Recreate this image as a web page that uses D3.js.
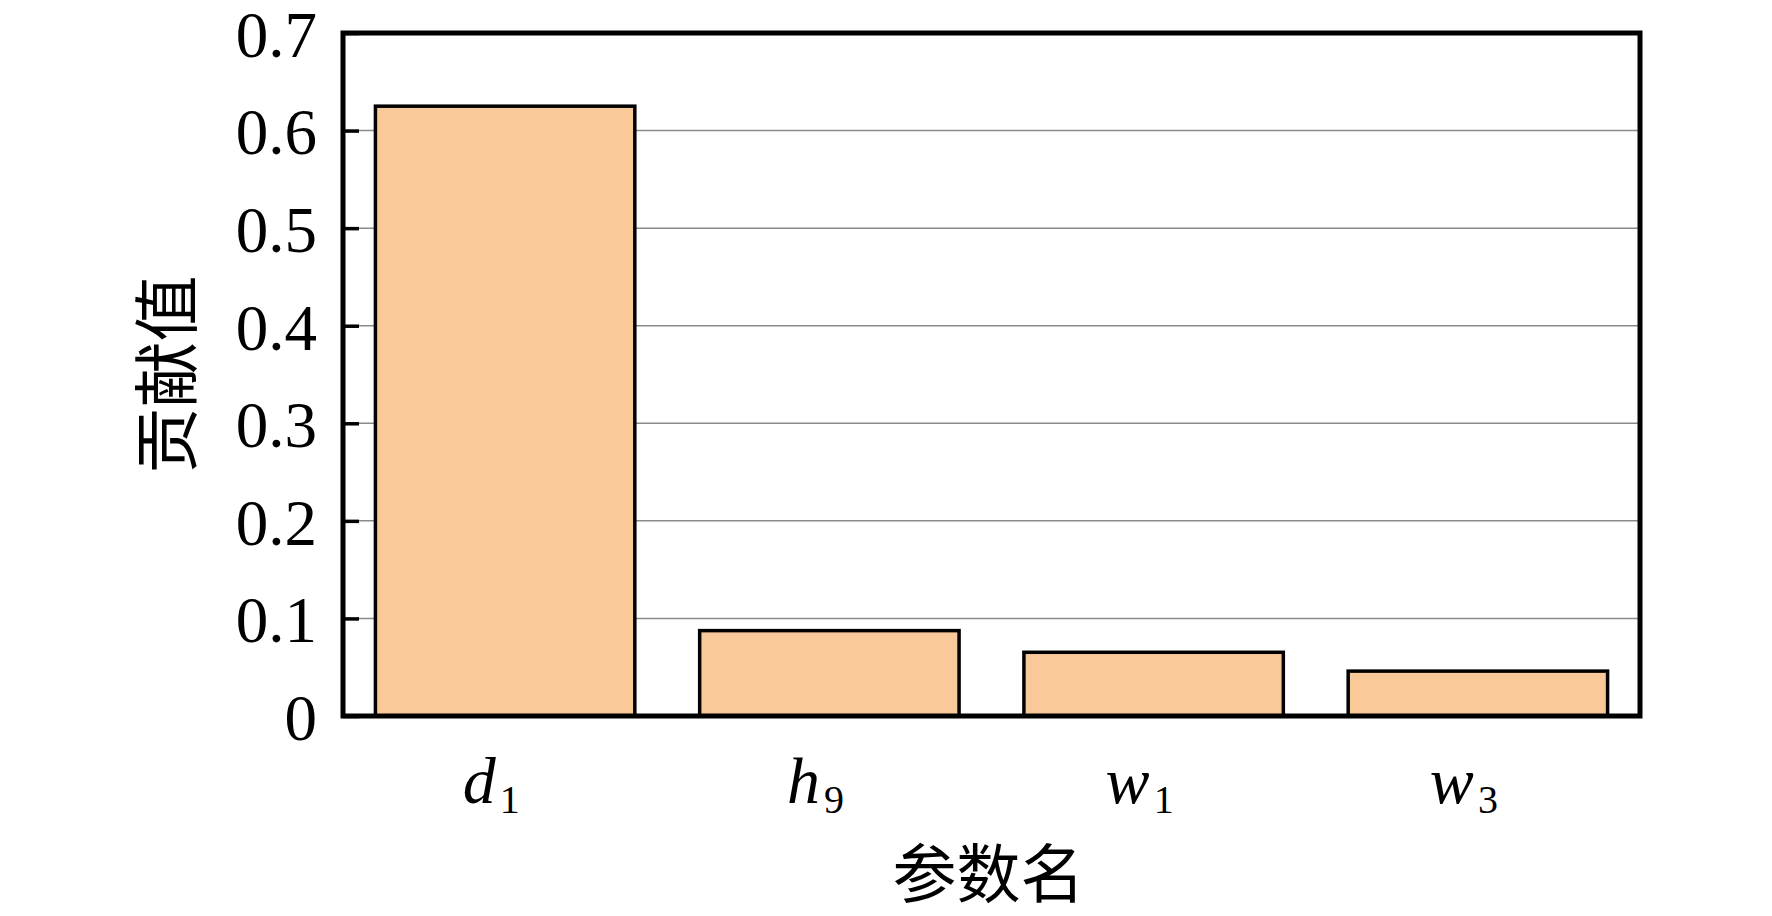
<!DOCTYPE html>
<html><head><meta charset="utf-8">
<script src="https://cdn.jsdelivr.net/npm/d3@7"></script>
<style>html,body{margin:0;padding:0;background:#fff;}svg{display:block;}</style>
</head><body>
<svg id="c" width="1772" height="916"></svg>
<script>
const categories = [["d","1"],["h","9"],["w","1"],["w","3"]];
const values = [0.625, 0.0875, 0.0653, 0.046];
const yTicks = [0, 0.1, 0.2, 0.3, 0.4, 0.5, 0.6, 0.7];
const yTickLabels = ["0", "0.1", "0.2", "0.3", "0.4", "0.5", "0.6", "0.7"];
const yTitle = "贡献值";
const xTitle = "参数名";

const svg = d3.select("#c");
const L = 343, R = 1640, T = 33, B = 716;
const serif = "'Liberation Serif','Times New Roman',serif";
const cjk = "'Noto Sans CJK SC',sans-serif";

const x = d3.scaleBand().domain(d3.range(categories.length)).range([L, R]).paddingInner(0.2).paddingOuter(0.1);
const y = d3.scaleLinear().domain([0, 0.7]).range([B, T]);

// gridlines
svg.append("g").selectAll("line").data(yTicks.filter(v => v > 0 && v < 0.7)).join("line")
  .attr("x1", L).attr("x2", R).attr("y1", d => y(d)).attr("y2", d => y(d))
  .attr("stroke", "#8a8a8a").attr("stroke-width", 1.5);

// bars
svg.append("g").selectAll("rect").data(values).join("rect")
  .attr("x", (d, i) => x(i)).attr("width", x.bandwidth())
  .attr("y", d => y(d)).attr("height", d => B - y(d))
  .attr("fill", "#FAC99A").attr("stroke", "#000").attr("stroke-width", 3.5);

// y axis ticks (inside) and labels
const yAxis = d3.axisLeft(y).tickValues(yTicks).tickFormat((d, i) => yTickLabels[i]).tickSizeInner(-16).tickSizeOuter(0).tickPadding(26);
const ga = svg.append("g").attr("transform", `translate(${L},0)`).call(yAxis);
ga.select(".domain").remove();
ga.selectAll(".tick line").attr("stroke", "#000").attr("stroke-width", 3.5);
ga.selectAll(".tick text").attr("font-family", serif).attr("font-size", 65).attr("fill", "#000").attr("dy", "0.36em");

// frame
svg.append("rect").attr("x", L).attr("y", T).attr("width", R - L).attr("height", B - T)
  .attr("fill", "none").attr("stroke", "#000").attr("stroke-width", 5);

// x labels
const xl = svg.append("g").selectAll("text").data(categories).join("text")
  .attr("x", (d, i) => x(i) + x.bandwidth() / 2 - 14).attr("y", 803)
  .attr("text-anchor", "middle").attr("font-family", serif).attr("font-size", 66).attr("fill", "#000");
xl.append("tspan").attr("font-style", "italic").text(d => d[0]);
xl.append("tspan").attr("font-size", 40).attr("dy", 10).attr("dx", 4).text(d => d[1]);

// axis titles
svg.append("text").attr("transform", `translate(162,${(T + B) / 2}) rotate(-90)`)
  .attr("text-anchor", "middle").attr("dominant-baseline", "central")
  .attr("font-family", cjk).attr("font-size", 66).attr("fill", "#000").text(yTitle);
svg.append("text").attr("x", (L + R) / 2 - 3).attr("y", 869)
  .attr("text-anchor", "middle").attr("dominant-baseline", "central")
  .attr("font-family", cjk).attr("font-size", 64).attr("fill", "#000").text(xTitle);
</script>
</body></html>
